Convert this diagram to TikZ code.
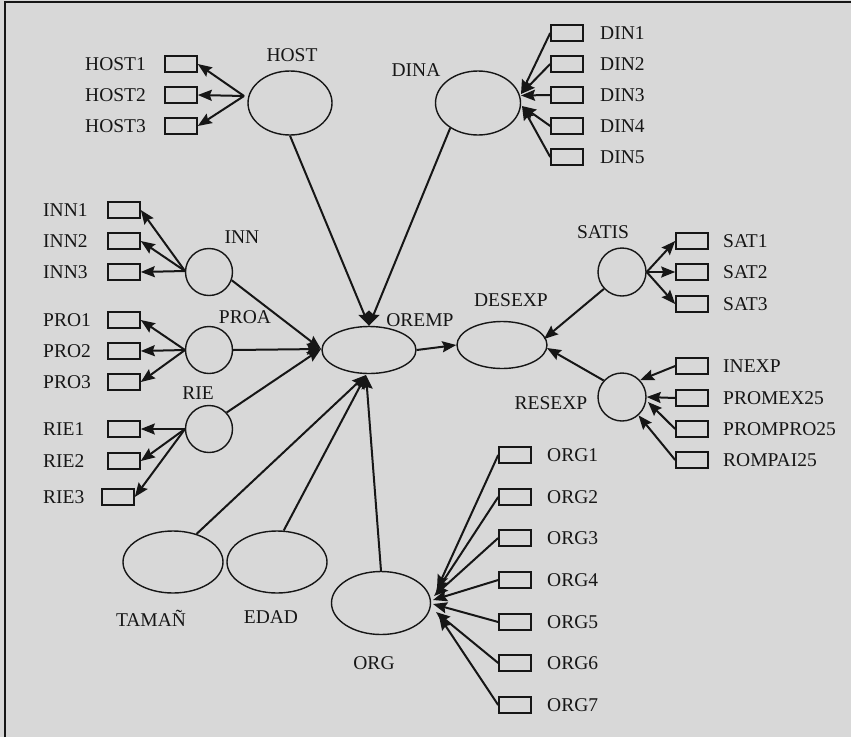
\documentclass[tikz,border=0pt]{standalone}
\usepackage{fontspec}
\setmainfont{Liberation Serif}
\usetikzlibrary{shapes.geometric,arrows.meta}
\definecolor{bg}{RGB}{216,216,216}
\definecolor{ink}{RGB}{22,22,22}

\begin{document}
\begin{tikzpicture}[x=1pt,y=-1pt,
  every node/.style={font=\fontsize{19.5}{22}\selectfont, text=ink},
  lat/.style={draw=ink, ellipse, line width=1.4pt, inner sep=0pt},
  lv/.style={draw=ink, circle, line width=1.4pt, inner sep=0pt, minimum size=47pt},
  ind/.style={draw=ink, rectangle, line width=1.6pt, inner sep=0pt,
              minimum width=32pt, minimum height=16pt},
  ilbl/.style={anchor=west, inner sep=0pt},
  vlbl/.style={inner sep=0pt},
  arr/.style={draw=ink, line width=2pt, -{Stealth[length=14pt,width=11pt,inset=2pt]}},
]
% canvas and frame
\fill[bg] (0,0) rectangle (851,737);
\useasboundingbox (0,0) rectangle (851,737);
\draw[ink, line width=1.5pt] (5,737) -- (5,2) -- (851,2);

% ---------- latent variables ----------
\node[lat, minimum width=84pt, minimum height=64pt] (HOST) at (290,103) {};
\node[lat, minimum width=85pt, minimum height=64pt] (DINA) at (478,103) {};
\node[lv] (INN) at (209,272) {};
\node[lv] (PROA) at (209,350) {};
\node[lv] (RIE) at (209,429) {};
\node[lat, minimum width=94pt, minimum height=47pt] (OREMP) at (369,350) {};
\node[lat, minimum width=90pt, minimum height=47pt] (DESEXP) at (502,345) {};
\node[lv, minimum size=48pt] (SATIS) at (622,272) {};
\node[lv, minimum size=48pt] (RESEXP) at (622,397) {};
\node[lat, minimum width=100pt, minimum height=62pt] (TAMAN) at (173,562) {};
\node[lat, minimum width=100pt, minimum height=62pt] (EDAD) at (277,562) {};
\node[lat, minimum width=99pt, minimum height=63pt] (ORG) at (381,603) {};

% latent labels
\node[vlbl] (lHOST) at (292,55) {HOST};
\node[vlbl] (lDINA) at (416,70) {DINA};
\node[vlbl] (lINN) at (242,237) {INN};
\node[vlbl] (lPROA) at (245,317) {PROA};
\node[vlbl] (lRIE) at (198,393) {RIE};
\node[vlbl] (lOREMP) at (420,320) {OREMP};
\node[vlbl] (lDESEXP) at (511,300) {DESEXP};
\node[vlbl] (lSATIS) at (603,232) {SATIS};
\node[vlbl] (lRESEXP) at (551,403) {RESEXP};
\node[vlbl, anchor=base] (lTAMAN) at (151,626.5) {TAMAÑ};
\node[vlbl] (lEDAD) at (271,617) {EDAD};
\node[vlbl] (lORG) at (374,663) {ORG};

% ---------- indicators ----------
\foreach \i/\y in {1/64,2/95,3/126}{
  \node[ind] (HOST\i) at (181,\y) {};
  \node[ilbl] (lHOST\i) at (85,\y) {HOST\i};
}
\foreach \i/\y in {1/33,2/64,3/95,4/126,5/157}{
  \node[ind] (DIN\i) at (567,\y) {};
  \node[ilbl] (lDIN\i) at (600,\y) {DIN\i};
}
\foreach \i/\y in {1/210,2/241,3/272}{
  \node[ind] (INN\i) at (124,\y) {};
  \node[ilbl] (lINN\i) at (43,\y) {INN\i};
}
\foreach \i/\y in {1/320,2/351,3/382}{
  \node[ind] (PRO\i) at (124,\y) {};
  \node[ilbl] (lPRO\i) at (43,\y) {PRO\i};
}
\node[ind] (RIE1) at (124,429) {};
\node[ind] (RIE2) at (124,461) {};
\node[ind] (RIE3) at (118,497) {};
\foreach \i/\y in {1/429,2/461,3/497}{
  \node[ilbl] (lRIE\i) at (43,\y) {RIE\i};
}
\foreach \i/\y in {1/241,2/272,3/304}{
  \node[ind] (SAT\i) at (692,\y) {};
  \node[ilbl] (lSAT\i) at (723,\y) {SAT\i};
}
\foreach \n/\y in {INEXP/366,PROMEX25/398,PROMPRO25/429,ROMPAI25/460}{
  \node[ind] (\n) at (692,\y) {};
  \node[ilbl] (l\n) at (723,\y) {\n};
}
\foreach \i/\y in {1/455,2/497,3/538,4/580,5/622,6/663,7/705}{
  \node[ind] (ORG\i) at (515,\y) {};
  \node[ilbl] (lORG\i) at (547,\y) {ORG\i};
}

% ---------- convergence points ----------
\coordinate (hs) at (244,96);
\coordinate (ins) at (185,271);
\coordinate (prs) at (185,350);
\coordinate (ris) at (185,429);
\coordinate (dtA) at (521,94);
\coordinate (dtB) at (521,95.5);
\coordinate (dtC) at (522,106);
\coordinate (ow) at (321,349);
\coordinate (ob) at (366,375);
\coordinate (de1) at (544,339);
\coordinate (de2) at (547,348);
\coordinate (rp) at (648,402);
\coordinate (og1) at (437,589);
\coordinate (og2) at (436,592);
\coordinate (og3) at (434,596);
\coordinate (og4) at (433,600);
\coordinate (og5) at (433,604);
\coordinate (og6) at (436,612);
\coordinate (og7) at (439,616);

% ---------- measurement arrows ----------
\foreach \i in {1,2,3}{
  \draw[arr] (hs) -- (HOST\i.east);
  \draw[arr] (ins) -- (INN\i.east);
  \draw[arr] (prs) -- (PRO\i.east);
  \draw[arr] (ris) -- (RIE\i.east);
  \draw[arr] (SATIS.east) -- (SAT\i.west);
}
\draw[arr] (DIN1.west) -- (dtA);
\draw[arr] (DIN2.west) -- (dtA);
\draw[arr] (DIN3.west) -- (dtB);
\draw[arr] (DIN4.west) -- (dtC);
\draw[arr] (DIN5.west) -- (dtC);

\draw[arr] (INEXP.west) -- (RESEXP.43);
\draw[arr] (PROMEX25.west) -- (RESEXP.east);
\draw[arr] (PROMPRO25.west) -- (rp);
\draw[arr] (ROMPAI25.west) -- (RESEXP.-48);

\foreach \i in {1,...,7}{
  \draw[arr] (ORG\i.west) -- (og\i);
}

% ---------- structural paths ----------
\draw[arr] (HOST.south) -- (OREMP.north);
\draw[arr] (DINA.222) -- (OREMP.north);
\draw[arr] (INN.-20) -- (ow);
\draw[arr] (PROA.east) -- (ow);
\draw[arr] (RIE.43) -- (ow);
\draw[arr] (TAMAN.50) -- (ob);
\draw[arr] (EDAD.78) -- (ob);
\draw[arr] (ORG.north) -- (ob);
\draw[arr] (OREMP.east) -- (DESEXP.west);
\draw[arr] (SATIS.223) -- (de1);
\draw[arr] (RESEXP.138) -- (de2);
\end{tikzpicture}
\end{document}
